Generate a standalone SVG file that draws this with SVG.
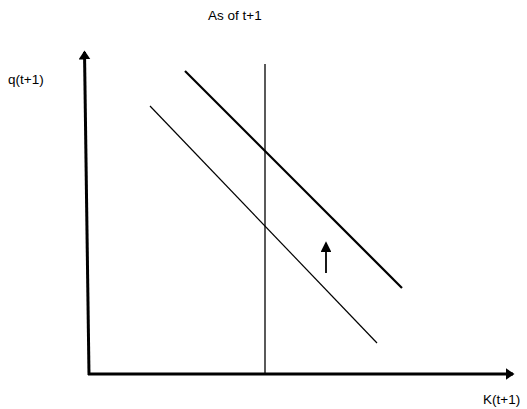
<svg xmlns="http://www.w3.org/2000/svg" width="527" height="409" viewBox="0 0 527 409">
<style>
text{font-family:"Liberation Sans",Arial,sans-serif;font-size:13.5px;fill:#000}
.ax{stroke:#000;stroke-width:3;fill:none}
.ln{stroke:#000;fill:none}
</style>
<defs>
<marker id="ah" markerWidth="4" markerHeight="4" refX="2.5" refY="2" orient="auto" markerUnits="strokeWidth">
<path d="M0,0 L3,2 L0,4 Z" fill="#000"/>
</marker>
<marker id="ah2" markerWidth="6" markerHeight="6" refX="5" refY="3" orient="auto" markerUnits="strokeWidth">
<path d="M0,0 L6,3 L0,6 Z" fill="#000"/>
</marker>
</defs>
<rect width="527" height="409" fill="#fff"/>
<g id="connectors">
<line class="ax" x1="89" y1="375" x2="84.5" y2="52" marker-end="url(#ah)"/>
<line class="ax" x1="88" y1="374" x2="513" y2="374" marker-end="url(#ah)"/>
<line class="ln" stroke-width="1.3" x1="265" y1="64" x2="265" y2="375"/>
<line class="ln" stroke-width="2.2" x1="185" y1="71" x2="402" y2="288"/>
<line class="ln" stroke-width="1.2" x1="150" y1="106" x2="377" y2="343"/>
<line class="ln" stroke-width="1.8" x1="326" y1="273" x2="326" y2="243" marker-end="url(#ah2)"/>
</g>
<g id="title"><text x="208" y="20">As of t+1</text></g>
<g id="ylabel"><text x="8" y="84">q(t+1)</text></g>
<g id="xlabel"><text x="483" y="404">K(t+1)</text></g>
</svg>
